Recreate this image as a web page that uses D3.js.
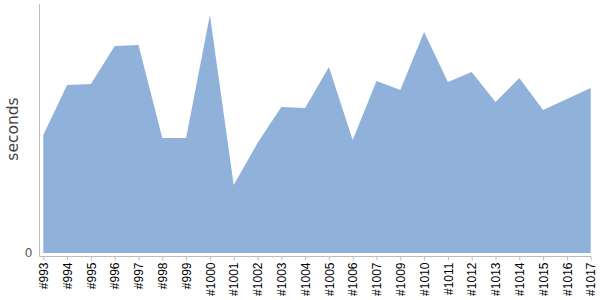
<!DOCTYPE html>
<html>
<head>
<meta charset="utf-8">
<script src="https://cdn.jsdelivr.net/npm/d3@7"></script>
<style>
  html, body { margin: 0; padding: 0; background: #fff; }
  svg { display: block; }
</style>
</head>
<body>
<svg id="chart" width="600" height="300"></svg>
<script>
const categories = ["#993","#994","#995","#996","#997","#998","#999","#1000","#1001","#1002","#1003","#1004","#1005","#1006","#1007","#1009","#1010","#1011","#1012","#1013","#1014","#1015","#1016","#1017"];
const seconds = [118,168,169,207,208,115,115,238,68,110,146,145,186,113,172,163,221,171,181,151,175,143,154,165];
const yTicks = [0];
const yLabel = "seconds";

const svg = d3.select("#chart");
const x = d3.scalePoint().domain(categories).range([43.3, 590.7]);
const y = d3.scaleLinear().domain([0, 249]).range([253, 4]);

const area = d3.area()
  .x((d, i) => x(categories[i]))
  .y0(y(0))
  .y1(d => y(d));

svg.append("path")
  .datum(seconds)
  .attr("d", area)
  .attr("fill", "#8fb1da");

// y axis
const yAxis = svg.append("g").attr("transform", "translate(39.5,0)")
  .call(d3.axisLeft(y).tickValues(yTicks).tickSize(0).tickPadding(7).tickFormat(d3.format("d")));
yAxis.select(".domain").attr("stroke", "#bbb").attr("d", "M0,4V256.5");
yAxis.selectAll("text").attr("fill", "#555").style("font-family", "DejaVu Sans, sans-serif").style("font-size", "12px");

// x axis
const xAxis = svg.append("g").attr("transform", "translate(0,256.5)")
  .call(d3.axisBottom(x).tickSize(4).tickSizeOuter(0).tickPadding(6));
xAxis.select(".domain").attr("stroke", "#bbb").attr("d", "M39.5,0H591");
xAxis.selectAll(".tick line").attr("stroke", "#bbb");
xAxis.selectAll("text")
  .attr("fill", "#000")
  .style("font-family", "Liberation Sans, Arial, sans-serif")
  .style("font-size", "12px")
  .attr("transform", "rotate(-90)")
  .attr("text-anchor", "end")
  .attr("x", -6)
  .attr("y", 0)
  .attr("dy", "0.35em");

// y label
svg.append("text")
  .attr("transform", "translate(18,129) rotate(-90)")
  .attr("text-anchor", "middle")
  .attr("fill", "#444")
  .style("font-family", "DejaVu Sans, sans-serif")
  .style("font-size", "15.5px")
  .text(yLabel);
</script>
</body>
</html>
